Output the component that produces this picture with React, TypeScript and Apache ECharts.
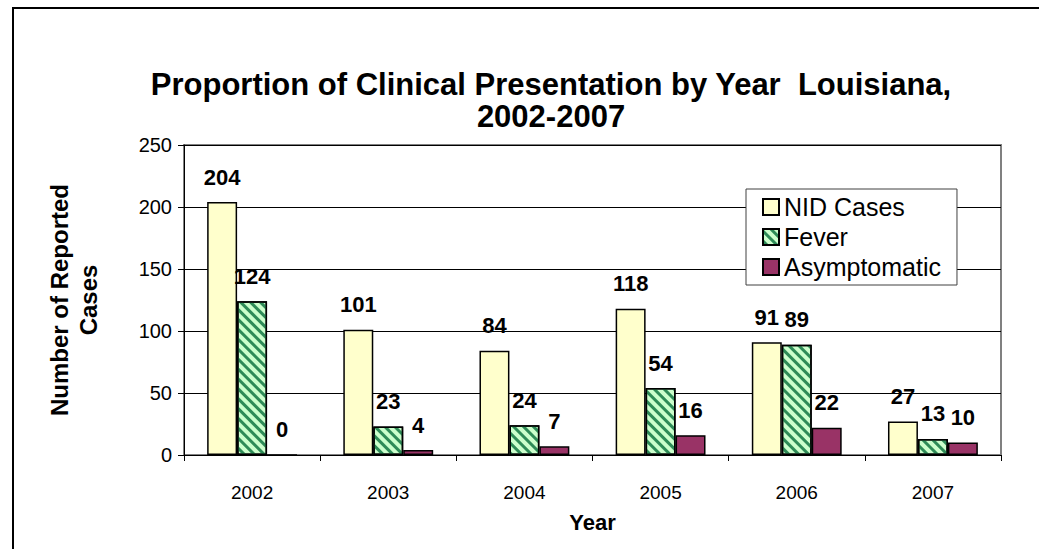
import React, { useEffect, useRef } from "react";
import * as echarts from "echarts";

const years = ["2002", "2003", "2004", "2005", "2006", "2007"];
const nidCases = [204, 101, 84, 118, 91, 27];
const fever = [124, 23, 24, 54, 89, 13];
const asymptomatic = [0, 4, 7, 16, 22, 10];
const yTicks = { min: 0, max: 250, interval: 50 };

const FONT = "Arial, 'Liberation Sans', sans-serif";

export default function App() {
  const ref = useRef<HTMLDivElement>(null);
  useEffect(() => {
    if (!ref.current) return;
    const chart = echarts.init(ref.current, undefined, { renderer: "svg" });
    const label = {
      show: true,
      position: "top",
      distance: 14,
      fontFamily: FONT,
      fontSize: 22,
      fontWeight: "bold",
      color: "#000",
    };
    const border = { borderColor: "#000", borderWidth: 1.5 };
    chart.setOption({
      animation: false,
      backgroundColor: "#fff",
      textStyle: { fontFamily: FONT },
      title: {
        text: "Proportion of Clinical Presentation by Year  Louisiana,\n2002-2007",
        left: 546,
        top: 63,
        textAlign: "center",
        textStyle: {
          fontFamily: FONT,
          fontSize: 31,
          fontWeight: "bold",
          color: "#000",
          lineHeight: 32,
        },
      },
      legend: {
        orient: "vertical",
        left: 746,
        top: 189,
        padding: [5, 16, 5, 16],
        itemGap: 4,
        itemWidth: 16,
        itemHeight: 16,
        backgroundColor: "#fff",
        borderColor: "#404040",
        borderWidth: 1,
        borderRadius: 0,
        icon: "rect",
        textStyle: { fontFamily: FONT, fontSize: 25, lineHeight: 26, color: "#000" },
        data: ["NID Cases", "Fever", "Asymptomatic"],
      },
      grid: {
        left: 184,
        top: 145,
        right: 38,
        bottom: 94,
        show: true,
        borderColor: "#808080",
        borderWidth: 2,
        backgroundColor: "#fff",
      },
      xAxis: {
        type: "category",
        data: years,
        name: "Year",
        nameLocation: "middle",
        nameGap: 56,
        nameTextStyle: { fontFamily: FONT, fontSize: 22, fontWeight: "bold", color: "#000" },
        axisLine: { lineStyle: { color: "#000", width: 1 } },
        axisTick: { show: true, length: 6, lineStyle: { color: "#000" } },
        axisLabel: { fontFamily: FONT, fontSize: 19, color: "#000", margin: 28 },
      },
      yAxis: {
        type: "value",
        min: yTicks.min,
        max: yTicks.max,
        interval: yTicks.interval,
        name: "Number of Reported\nCases",
        nameLocation: "middle",
        nameGap: 81,
        nameRotate: 90,
        nameTextStyle: {
          fontFamily: FONT,
          fontSize: 24,
          fontWeight: "bold",
          color: "#000",
          lineHeight: 29,
        },
        axisLine: { show: true, lineStyle: { color: "#000", width: 1 } },
        axisTick: { show: true, length: 6, lineStyle: { color: "#000" } },
        axisLabel: { fontFamily: FONT, fontSize: 20, color: "#000", margin: 12 },
        splitLine: { show: true, lineStyle: { color: "#000", width: 1 } },
      },
      series: [
        {
          name: "NID Cases",
          type: "bar",
          data: nidCases,
          barGap: "0%",
          barCategoryGap: "34%",
          itemStyle: { color: "#ffffcc", ...border },
          label,
        },
        {
          name: "Fever",
          type: "bar",
          data: fever,
          itemStyle: {
            color: "#ccffcc",
            ...border,
            decal: {
              symbol: "rect",
              symbolSize: 1,
              color: "#2e8b57",
              dashArrayX: [1, 0],
              dashArrayY: [3, 4],
              rotation: Math.PI / 4,
            },
          },
          label,
        },
        {
          name: "Asymptomatic",
          type: "bar",
          data: asymptomatic,
          itemStyle: { color: "#993366", ...border },
          label,
        },
      ],
      graphic: [
        {
          type: "rect",
          silent: true,
          z: -10,
          shape: { x: 13, y: 8, width: 1100, height: 700 },
          style: { fill: "none", stroke: "#000", lineWidth: 2 },
        },
      ],
    });
    return () => chart.dispose();
  }, []);
  return (
    <div
      ref={ref}
      style={{ position: "fixed", left: 0, top: 0, width: 1039, height: 549 }}
    />
  );
}
